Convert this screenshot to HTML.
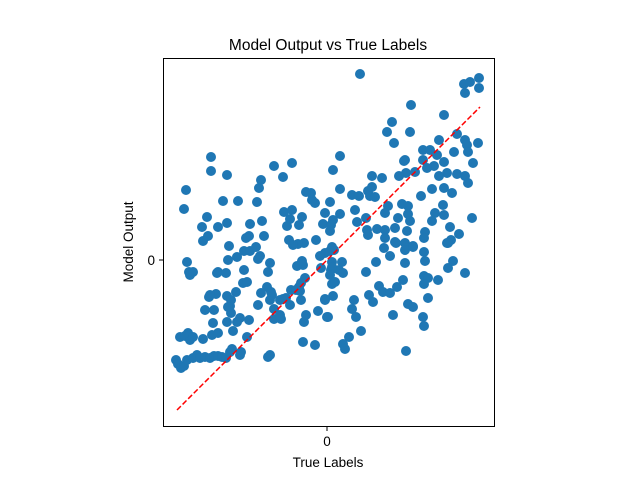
<!DOCTYPE html>
<html><head><meta charset="utf-8"><style>
body{margin:0;background:#fff;}
svg text{font-family:"Liberation Sans","DejaVu Sans",sans-serif;}
</style></head><body>
<svg id="chart" width="640" height="480" viewBox="0 0 640 480" xmlns="http://www.w3.org/2000/svg">
<rect x="0" y="0" width="640" height="480" fill="#fff"/>
<text x="328" y="50" font-size="15.5" text-anchor="middle" fill="#000">Model Output vs True Labels</text>
<g id="points"></g>
<line id="diag" stroke="#ff0000" stroke-width="1.5" stroke-dasharray="5.5,2.4" fill="none"/>
<rect x="163.5" y="58.5" width="331" height="368" fill="none" stroke="#000" stroke-width="1"/>
<g id="xticks"></g>
<g id="yticks"></g>
<text x="328" y="467" font-size="13.5" text-anchor="middle" fill="#000">True Labels</text>
<text x="133" y="242" font-size="13.5" text-anchor="middle" fill="#000" transform="rotate(-90 133 242)">Model Output</text>
</svg>
<script>
const trueLabels = [-147,-142,-137,-139,-134,-151,-149,-146,-143,-140,-134,-130,-127,-122,-117,-113,-109,-105,-101,-97,-95,-87,-86,-59,-57,-124,-115,-114,-109,-94,-87,
-140,-138,-137,-134,-118,-111,-113,-122,-100,-100,-97,-90,-96,-96,-90,-84,-83,-83,-77,-78,-71,-69,-67,-60,-59,-57,-57,-55,-53,-53,-46,-47,-56,-47,-41,-36,-31,-27,-26,-28,-26,-22,-24,-30,-25,-23,-29,-34,-38,-40,-37,-43,-23,-9,-2,-12,6,5,4,-6,-2,-7,3,-11,3,-4,6,-12,-15,-16,-25,13,7,12,
-116,-116,-100,-141,-143,-104,-89,-70,-66,-68,-35,-53,-44,-21,-35,-125,-120,-124,-109,-119,-100,-63,-65,-81,-98,-28,-77,-109,-99,
-110,-101,-80,-91,-117,-99,-78,-80,-66,-69,-44,-37,-24,-21,1,
33,84,65,60,67,83,117,137,143,152,152,138,112,130,138,151,140,96,103,127,141,110,96,78,77,13,6,13,117,146,107,100,120,112,88,79,72,55,45,130,138,141,117,125,105,94,75,81,116,108,117,145,25,32,41,45,43,48,3,-2,28,39,61,58,71,81,83,105,123,132,30,40,50,58,68,80,98,97,120,124,4,41,58,68,78,86,
5,5,5,15,16,3,8,-2,0,39,49,57,63,69,78,78,86,97,98,97,101,97,111,121,126,138,121,52,56,63,70,76,42,46,27,25,29,66,81,86,101,96,97,34,22,16,18,79];
const modelOutputs = [-77,-76,-80,-73,-77,-100,-104,-108,-106,-100,-98,-95,-98,-97,-98,-96,-96,-97,-98,-92,-89,-95,-92,-97,-95,-79,-75,-63,-73,-71,-58,
-2,-12,-15,-12,-37,-34,-50,-50,-36,-62,-46,-62,-53,-40,3,-23,-10,9,9,24,13,1,4,-27,-12,-3,-40,-35,-49,-59,-59,-55,-32,-40,-38,-30,-30,-31,-40,-27,-23,-18,-5,-6,-1,17,16,15,20,34,41,48,-62,-51,-39,-85,-36,-24,-10,-8,7,4,9,20,29,36,40,57,60,67,43,46,10,-10,
103,89,85,70,51,59,59,58,80,72,97,94,83,68,50,33,43,19,33,24,37,24,39,22,14,35,36,-12,0,
-13,-13,-22,-32,-35,-47,-60,-77,-33,-45,-39,-45,-82,-55,-57,
186,155,138,128,117,128,145,176,178,182,172,167,120,126,120,117,115,110,110,108,108,105,100,100,99,104,90,71,98,97,94,92,87,84,88,87,84,82,84,86,84,77,72,67,71,64,56,54,55,47,45,42,65,64,69,73,64,63,58,47,50,42,54,47,42,46,39,39,33,26,38,30,31,30,32,29,28,22,17,20,35,25,22,18,17,14,
13,-2,-7,-2,-13,-15,-22,-40,-57,-12,-2,12,4,17,-3,10,13,8,-1,-16,-18,-24,-20,-8,-1,-13,17,-26,-32,-33,-27,-20,-35,-42,-40,-49,-57,-55,-44,-47,-38,-57,-66,-71,-77,-84,-89,-91];
const xTickValues = [0];
const xTickLabels = ["0"];
const yTickValues = [0];
const yTickLabels = ["0"];
const lineExtent = [-150, 153];

const NS = "http://www.w3.org/2000/svg";
function xScale(v){ return 327 + v; }
function yScale(v){ return 260 - v; }

const pts = document.getElementById('points');
for (let i = 0; i < trueLabels.length; i++) {
  const c = document.createElementNS(NS, 'circle');
  c.setAttribute('cx', xScale(trueLabels[i]));
  c.setAttribute('cy', yScale(modelOutputs[i]));
  c.setAttribute('r', 5);
  c.setAttribute('fill', '#1f77b4');
  
  
  pts.appendChild(c);
}
const d = document.getElementById('diag');
d.setAttribute('x1', xScale(lineExtent[0]));
d.setAttribute('y1', yScale(lineExtent[0]));
d.setAttribute('x2', xScale(lineExtent[1]));
d.setAttribute('y2', yScale(lineExtent[1]));

const xt = document.getElementById('xticks');
xTickValues.forEach((v, i) => {
  const l = document.createElementNS(NS, 'line');
  l.setAttribute('x1', xScale(v)); l.setAttribute('x2', xScale(v));
  l.setAttribute('y1', 427); l.setAttribute('y2', 431);
  l.setAttribute('stroke', '#000');
  
  
  xt.appendChild(l);
  const t = document.createElementNS(NS, 'text');
  t.setAttribute('x', xScale(v)); t.setAttribute('y', 446);
  t.setAttribute('font-size', '13.5'); t.setAttribute('text-anchor', 'middle');
  
  
  t.textContent = xTickLabels[i];
  xt.appendChild(t);
});
const yt = document.getElementById('yticks');
yTickValues.forEach((v, i) => {
  const l = document.createElementNS(NS, 'line');
  l.setAttribute('x1', 159); l.setAttribute('x2', 163);
  l.setAttribute('y1', yScale(v)); l.setAttribute('y2', yScale(v));
  l.setAttribute('stroke', '#000');
  
  
  yt.appendChild(l);
  const t = document.createElementNS(NS, 'text');
  t.setAttribute('x', 155); t.setAttribute('y', yScale(v) + 5);
  t.setAttribute('font-size', '13.5'); t.setAttribute('text-anchor', 'end');
  
  
  t.textContent = yTickLabels[i];
  yt.appendChild(t);
});
</script>
</body></html>
